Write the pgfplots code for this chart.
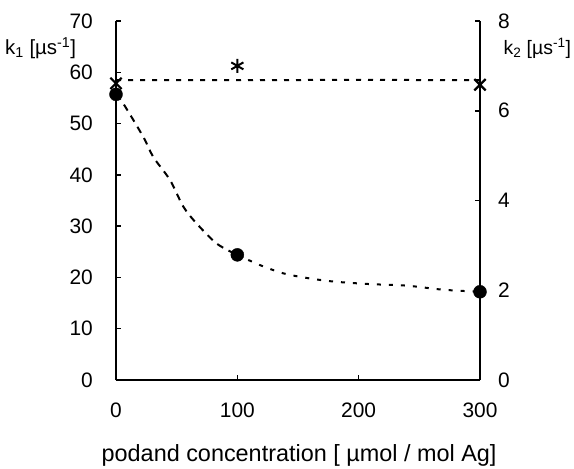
\documentclass[border=0pt]{standalone}
\usepackage{pgfplots}
\pgfplotsset{compat=1.18}
\usepackage{fontspec}
\setmainfont{Liberation Sans}
\begin{document}
\begin{tikzpicture}
\useasboundingbox (-116bp,-89bp) rectangle (458bp,380bp);
\pgfplotsset{
  common/.style={
    scale only axis, width=364bp, height=359bp,
    at={(0,0)}, anchor=south west,
    xmin=0, xmax=300, clip=false,
    tick align=inside, major tick length=5bp,
    every tick/.style={black, line width=1.5bp},
    axis line style={line width=2bp, -},
    every outer x axis line/.append style={-},
    every outer y axis line/.append style={-},
    /pgf/number format/assume math mode=true,
    tick label style={font=\fontsize{21}{25}\selectfont, inner sep=0pt},
  }
}
\begin{axis}[common,
  axis x line*=bottom, axis y line*=left,
  ymin=0, ymax=70, ytick={0,10,...,70},
  xtick={0,100,200,300},
  yticklabel style={anchor=east, xshift=-23bp},
  xticklabel style={anchor=north, yshift=-23bp},
  xlabel={podand concentration [ µmol / mol Ag]},
  every axis x label/.style={at={(axis description cs:0.503,-0.228)}, anchor=base, font=\fontsize{23.5}{27}\selectfont},
  ylabel={k\textsubscript{1} [µs\textsuperscript{-1}]},
  every axis y label/.style={at={(axis description cs:-0.1,0.906)}, anchor=base east, font=\fontsize{20.5}{24}\selectfont},
]
\addplot[black, line width=2bp, dash pattern=on 7bp off 6bp, smooth, tension=0.5] coordinates {
(0,55.7) (6.0,53.9) (22.5,47.4) (30.7,43.5) (44.5,39.0) (55.5,33.8) (66.5,30.5) (83.0,26.6) (100,24.4)};
\addplot[black, line width=2bp, dash pattern=on 4bp off 8bp, smooth, tension=0.5] coordinates {
(100,24.4) (118.7,22.4) (137.9,20.8) (157.2,19.9) (179.1,19.2) (209.3,18.7) (239.6,18.4) (269.8,17.6) (300,17.2)};
\addplot[only marks, mark=*, mark size=6.5bp, black] coordinates {(0,55.7) (100,24.4) (300,17.2)};
\end{axis}
\begin{axis}[common,
  axis x line=none, axis y line*=right,
  ymin=0, ymax=8, ytick={0,2,...,8},
  yticklabel style={anchor=west, xshift=18bp},
  ylabel={k\textsubscript{2} [µs\textsuperscript{-1}]},
  every axis y label/.style={at={(axis description cs:1.055,0.906)}, anchor=base west, font=\fontsize{19.5}{23}\selectfont},
]
\addplot[black, line width=2bp, dash pattern=on 5bp off 7bp] coordinates {(0,6.68) (100,6.68) (200,6.69) (300,6.68)};
\addplot[only marks, mark=x, mark size=8bp, black, mark options={line width=2.2bp}] coordinates {(0,6.61) (300,6.58)};
\addplot[only marks, mark=asterisk, mark size=7bp, black, mark options={line width=2bp}] coordinates {(100,7.0)};
\end{axis}
\end{tikzpicture}
\end{document}
